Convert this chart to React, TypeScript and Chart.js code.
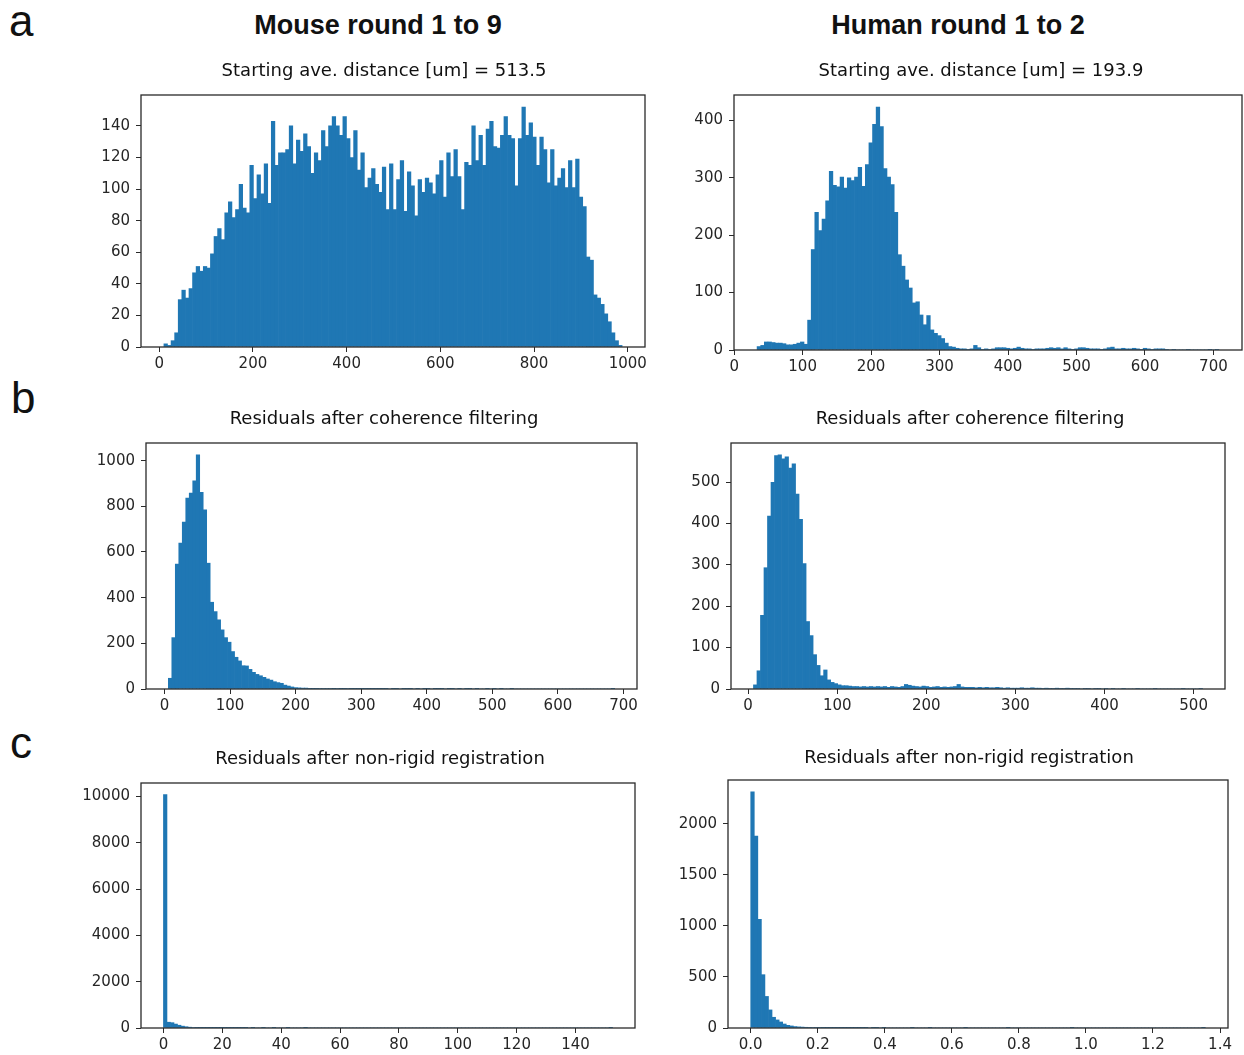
import React, { useEffect, useRef } from 'react';
import { Chart, registerables } from 'chart.js';

Chart.register(...registerables);

// ---------- data (bin ranges and counts, 128 bins each) ----------
const mouseStartRange = [10, 988];
const mouseStartCounts = [
  2, 1, 4, 9, 30, 36, 31, 37, 47, 51, 48, 51, 50, 59, 70, 75, 68, 85, 92, 82,
  87, 103, 88, 85, 115, 94, 109, 97, 116, 91, 143, 115, 123, 123, 125, 140, 116, 131, 124, 135,
  127, 110, 123, 118, 137, 127, 140, 146, 140, 134, 146, 132, 120, 137, 112, 123, 101, 107, 113, 103,
  98, 114, 87, 116,
  87, 106, 118, 86, 111, 102, 83, 106, 98, 107, 104, 97, 109, 118, 95, 123, 108, 125, 108, 87,
  117, 115, 140, 118, 134, 115, 138, 143, 127, 126, 134, 146, 134, 132, 102, 132, 152, 134, 142, 133,
  115, 133, 125, 104, 125, 102, 107, 113, 101, 118, 101, 119, 95, 89, 57, 55, 33, 31, 27, 21,
  16, 9, 4, 1,
];

const humanStartRange = [33.5, 708];
const humanStartCounts = [
  6, 8, 14, 14, 13, 12, 12, 11, 9, 9, 10, 12, 14, 10,
  52, 175, 240, 208, 228, 260, 311, 287, 284, 301, 282, 300, 295, 301, 318, 285, 323, 361, 393, 423,
  389, 316, 301, 288, 240, 166, 146, 122, 108, 82, 84, 61, 44, 60, 35, 29, 25, 20, 12, 6, 5,
  3, 2, 2, 1, 2, 8, 4, 1, 2, 1, 2, 4, 4, 4, 3, 2, 3, 5, 3, 2, 2, 1, 2, 2, 2, 3, 4, 3, 4, 2, 4, 2,
  1, 2, 4, 4, 3, 2, 2, 2, 1, 2, 4, 5, 2, 2, 3, 2, 2, 3, 2, 1, 3, 2, 1, 2, 2, 2, 1,
  0, 1, 0, 0, 0, 1, 0, 0, 0, 0, 0, 1, 0, 1,
];

const mouseCoherenceRange = [5.8, 686.6];
const mouseCoherenceCounts = [
  47, 225, 547, 639, 731, 836, 858, 912, 1026, 861, 785, 551, 380, 339, 303, 259, 225, 205, 164, 139,
  123, 102, 101, 86, 73, 64, 58, 51, 44, 39, 32, 28, 25, 17, 13, 9, 6, 5, 4, 4, 3,
  3, 3, 2, 2, 2, 2, 1, 2, 1, 1, 2, 1, 1, 1, 1, 1, 1, 1, 1, 1,
  1, 1, 0, 1, 1, 0, 1, 1, 1, 0, 1, 0, 1, 1, 0, 1, 1, 1, 0, 1,
  1, 0, 1, 0, 1, 1, 0, 1, 0, 0, 1, 0, 1, 0, 1, 0, 0, 1, 0, 0,
  0, 0, 0, 0, 0, 0, 0, 0, 0, 0, 0, 0, 0, 0, 0, 0, 0, 0, 0, 0,
  0, 0, 0, 0, 0, 0, 1,
];

const humanCoherenceRange = [6, 510];
const humanCoherenceCounts = [
  10, 44, 178, 293, 418, 499, 564, 566, 556, 561, 534, 544, 471, 410, 303, 163, 129, 83, 57, 32,
  46, 22, 16, 13, 10, 8,
  8, 7, 6, 6, 5, 6, 5,
  6, 5, 6, 5, 6, 4, 6, 5,
  4, 6, 11, 9, 7,
  6, 5, 7, 6, 4, 5, 6,
  4, 5, 4, 5, 6, 11,
  5, 4, 4, 4, 3, 4, 3,
  4, 3, 3, 4, 3, 2, 3,
  2, 2, 2, 3, 2, 2, 3, 2,
  2, 1, 2, 1, 1, 2, 1, 1, 2, 1,
  1, 1, 0, 1, 1, 0, 1, 1, 0, 1,
  0, 1, 0, 0, 1, 0, 0, 0, 1, 0, 0, 0, 0, 1, 0, 0, 0, 0, 0, 0, 0, 1, 0, 0, 0, 0, 1,
];

const mouseNonRigidRange = [0, 152.6];
const mouseNonRigidCounts = [
  10080, 250, 230, 170, 120, 80, 55, 35, 22, 15, 10, 7, 5, 4, 3, 3, 2, 2, 2, 1, 1, 1, 1,
  1, 0, 1, 0, 0, 1, 0, 0, 1, 0, 0, 0, 1, 0, 0, 0, 0, 1,
  0, 0, 0, 0, 0, 0, 0, 0, 0, 0,
  0, 0, 0, 0, 0, 0, 0, 0, 0, 0,
  0, 0, 0, 0, 0, 0, 0, 0, 0, 0,
  0, 0, 0, 0, 0, 0, 0, 0, 0, 0,
  0, 0, 0, 0, 0, 0, 0, 0, 0, 0,
  0, 0, 0, 0, 0, 0, 0, 0, 0, 0,
  0, 0, 0, 0, 0, 0, 0, 0, 0, 0,
  0, 0, 0, 0, 0, 0, 0, 0, 0, 0,
  0, 0, 0, 0, 0, 0, 1,
];

const humanNonRigidRange = [0, 1.356];
const humanNonRigidCounts = [
  2312, 1878, 1064, 522, 309, 177, 105, 79, 59, 39, 26, 20, 14, 11, 9, 7, 6, 5, 4, 4,
  3, 3, 3, 2, 2, 2, 2, 1, 1, 1, 1, 1, 1, 0, 1, 1, 0, 1, 0, 0,
  0, 0, 0, 0, 0, 1, 0, 0, 0, 0,
  1, 0, 0, 0, 0, 0, 0, 0, 0, 0,
  1, 0, 0, 0, 0, 0, 0, 0, 0, 0,
  0, 0, 1, 0, 0, 0, 0, 0, 0, 0,
  0, 0, 0, 0, 0, 0, 0, 0, 0, 0,
  1, 0, 0, 0, 0, 0, 0, 0, 0, 0,
  0, 0, 0, 0, 0, 0, 0, 0, 0, 0,
  0, 0, 0, 0, 0, 0, 0, 0, 0, 0,
  0, 0, 0, 0, 0, 0, 0, 1,
];

// ---------- tick values / labels ----------
const mouseStartXTicks = [0, 200, 400, 600, 800, 1000];
const mouseStartYTicks = [0, 20, 40, 60, 80, 100, 120, 140];
const humanStartXTicks = [0, 100, 200, 300, 400, 500, 600, 700];
const humanStartYTicks = [0, 100, 200, 300, 400];
const mouseCoherenceXTicks = [0, 100, 200, 300, 400, 500, 600, 700];
const mouseCoherenceYTicks = [0, 200, 400, 600, 800, 1000];
const humanCoherenceXTicks = [0, 100, 200, 300, 400, 500];
const humanCoherenceYTicks = [0, 100, 200, 300, 400, 500];
const mouseNonRigidXTicks = [0, 20, 40, 60, 80, 100, 120, 140];
const mouseNonRigidYTicks = [0, 2000, 4000, 6000, 8000, 10000];
const humanNonRigidXTicks = [0, 0.2, 0.4, 0.6, 0.8, 1.0, 1.2, 1.4];
const humanNonRigidXLabels = ['0.0', '0.2', '0.4', '0.6', '0.8', '1.0', '1.2', '1.4'];
const humanNonRigidYTicks = [0, 500, 1000, 1500, 2000];

// ---------- text ----------
const columnTitles = ['Mouse round 1 to 9', 'Human round 1 to 2'];
const panelLetters = ['a', 'b', 'c'];
const subTitles = [
  'Starting ave. distance [um] = 513.5',
  'Starting ave. distance [um] = 193.9',
  'Residuals after coherence filtering',
  'Residuals after coherence filtering',
  'Residuals after non-rigid registration',
  'Residuals after non-rigid registration',
];

// ---------- layout ----------
const YW = 62; // y-axis box width
const XH = 30; // x-axis box height
const PT = 22;
const PR = 14;

type Panel = {
  range: number[];
  counts: number[];
  xTicks: number[];
  xLabels?: string[];
  yTicks: number[];
  area: [number, number, number, number]; // left, top, right, bottom
};

const panels: Panel[] = [
  { range: mouseStartRange, counts: mouseStartCounts, xTicks: mouseStartXTicks, yTicks: mouseStartYTicks, area: [141, 95, 645, 347] },
  { range: humanStartRange, counts: humanStartCounts, xTicks: humanStartXTicks, yTicks: humanStartYTicks, area: [734, 95, 1242, 350] },
  { range: mouseCoherenceRange, counts: mouseCoherenceCounts, xTicks: mouseCoherenceXTicks, yTicks: mouseCoherenceYTicks, area: [146, 443, 637, 689] },
  { range: humanCoherenceRange, counts: humanCoherenceCounts, xTicks: humanCoherenceXTicks, yTicks: humanCoherenceYTicks, area: [731, 443, 1225, 689] },
  { range: mouseNonRigidRange, counts: mouseNonRigidCounts, xTicks: mouseNonRigidXTicks, yTicks: mouseNonRigidYTicks, area: [141, 783, 635, 1028] },
  { range: humanNonRigidRange, counts: humanNonRigidCounts, xTicks: humanNonRigidXTicks, xLabels: humanNonRigidXLabels, yTicks: humanNonRigidYTicks, area: [728, 780, 1228, 1028] },
];

const framePlugin = {
  id: 'frame',
  afterDatasetsDraw(chart: any) {
    const { ctx, chartArea } = chart;
    const { left, top, right, bottom } = chartArea;
    ctx.save();
    ctx.strokeStyle = '#2a2a2a';
    ctx.lineWidth = 1.3;
    ctx.strokeRect(left, top, right - left, bottom - top);
    ctx.restore();
  },
};

const tickFont = { family: "'DejaVu Sans', sans-serif", size: 15 };

function HistPanel({ p }: { p: Panel }) {
  const ref = useRef<HTMLCanvasElement | null>(null);
  const [L, T, R, B] = p.area;
  const cw = R - L + YW + PR;
  const ch = B - T + PT + XH;

  useEffect(() => {
    if (!ref.current) return;
    const n = p.counts.length;
    const w = (p.range[1] - p.range[0]) / n;
    const pts = p.counts.map((c, i) => ({ x: p.range[0] + (i + 0.5) * w, y: c }));
    const margin = (p.range[1] - p.range[0]) * 0.05;
    const ymax = Math.max(...p.counts) * 1.05;
    const grid = {
      display: true,
      drawOnChartArea: false,
      drawTicks: true,
      tickLength: 5,
      color: '#2a2a2a',
      lineWidth: 1,
      offset: false,
    };
    const chart = new Chart(ref.current, {
      type: 'bar',
      data: {
        datasets: [
          {
            data: pts as any,
            backgroundColor: '#1f77b4',
            borderWidth: 0,
            barPercentage: 1,
            categoryPercentage: 1,
          },
        ],
      },
      options: {
        responsive: false,
        animation: false,
        layout: { padding: { top: PT, right: PR, left: 0, bottom: 0 } },
        plugins: { legend: { display: false }, tooltip: { enabled: false }, title: { display: false } },
        scales: {
          x: {
            type: 'linear',
            min: p.range[0] - margin,
            max: p.range[1] + margin,
            offset: false,
            grid: grid as any,
            border: { display: false },
            ticks: {
              autoSkip: false,
              maxRotation: 0,
              padding: 3,
              color: '#262626',
              font: tickFont,
              callback: (_v: any, i: number) => (p.xLabels ? p.xLabels[i] : String(p.xTicks[i])),
            },
            afterBuildTicks: (s: any) => {
              s.ticks = p.xTicks.map((v) => ({ value: v }));
            },
            afterFit: (s: any) => {
              s.height = XH;
            },
          },
          y: {
            type: 'linear',
            min: 0,
            max: ymax,
            grid: grid as any,
            border: { display: false },
            ticks: {
              autoSkip: false,
              padding: 6,
              color: '#262626',
              font: tickFont,
              callback: (_v: any, i: number) => String(p.yTicks[i]),
            },
            afterBuildTicks: (s: any) => {
              s.ticks = p.yTicks.map((v) => ({ value: v }));
            },
            afterFit: (s: any) => {
              s.width = YW;
            },
          },
        },
      } as any,
      plugins: [framePlugin],
    });
    return () => chart.destroy();
  }, []);

  return (
    <canvas
      ref={ref}
      width={cw}
      height={ch}
      style={{ position: 'absolute', left: L - YW, top: T - PT, width: cw, height: ch }}
    />
  );
}

function Label({ text, cx, top, size, weight, family }: { text: string; cx: number; top: number; size: number; weight?: string; family: string }) {
  return (
    <div
      style={{
        position: 'absolute',
        left: cx,
        top,
        transform: 'translateX(-50%)',
        whiteSpace: 'nowrap',
        fontFamily: family,
        fontSize: size,
        fontWeight: weight || 'normal',
        lineHeight: 1,
        color: '#111',
      }}
    >
      {text}
    </div>
  );
}

const subPos: [number, number][] = [
  [384, 61], [981, 61], [384, 409], [970, 409], [380, 749], [969, 748],
];

export default function App() {
  useEffect(() => {
    document.body.style.margin = '0';
  }, []);
  const dv = "'DejaVu Sans', sans-serif";
  const lib = "'Liberation Sans', Arial, sans-serif";
  return (
    <div style={{ position: 'absolute', left: 0, top: 0, width: 1244, height: 1055, overflow: 'hidden', background: '#fff' }}>
      {panels.map((p, i) => (
        <HistPanel key={i} p={p} />
      ))}
      <Label text={columnTitles[0]} cx={378} top={12} size={27} weight="bold" family={lib} />
      <Label text={columnTitles[1]} cx={958} top={12} size={27} weight="bold" family={lib} />
      {subTitles.map((t, i) => (
        <Label key={i} text={t} cx={subPos[i][0]} top={subPos[i][1]} size={18} family={dv} />
      ))}
      <div style={{ position: 'absolute', left: 9, top: -1, fontFamily: lib, fontSize: 44, lineHeight: 1, color: '#111' }}>{panelLetters[0]}</div>
      <div style={{ position: 'absolute', left: 11, top: 376, fontFamily: lib, fontSize: 44, lineHeight: 1, color: '#111' }}>{panelLetters[1]}</div>
      <div style={{ position: 'absolute', left: 10, top: 721, fontFamily: lib, fontSize: 44, lineHeight: 1, color: '#111' }}>{panelLetters[2]}</div>
    </div>
  );
}
